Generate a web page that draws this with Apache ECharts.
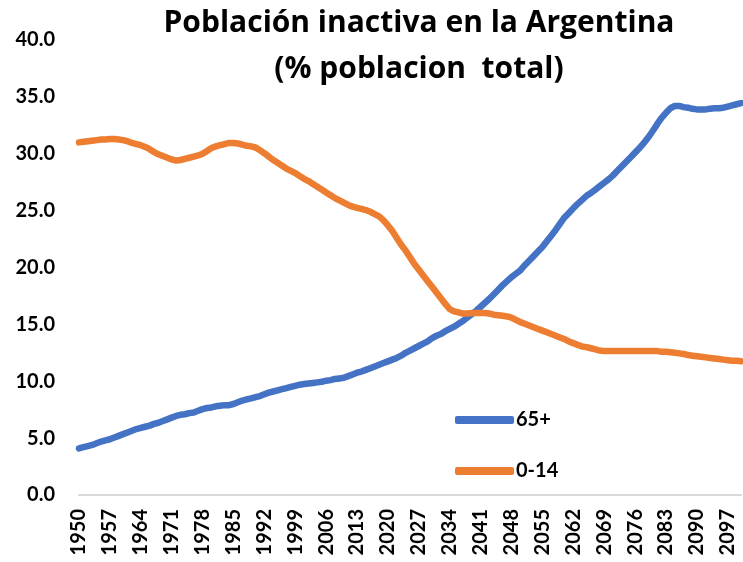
<!DOCTYPE html>
<html>
<head>
<meta charset="utf-8">
<script src="https://cdn.jsdelivr.net/npm/echarts@6/dist/echarts.min.js"></script>
<style>
html,body{margin:0;padding:0;background:#fff;}
#chart{width:743px;height:562px;}
</style>
</head>
<body>
<div id="chart"></div>
<script>
const titleText = 'Población inactiva en la Argentina\n(% poblacion  total)';
const startYear = 1950;
const endYear = 2100;
const years = [];
for (let y = startYear; y <= endYear; y++) years.push(String(y));

const seriesNames = ['65+', '0-14'];

const age65 = [
  4.1, 4.2, 4.3, 4.4, 4.55, 4.7, 4.8, 4.9, 5.05, 5.2,
  5.35, 5.5, 5.65, 5.8, 5.9, 6.0, 6.1, 6.25, 6.35, 6.5,
  6.65, 6.8, 6.95, 7.05, 7.1, 7.2, 7.25, 7.4, 7.55, 7.65,
  7.7, 7.8, 7.85, 7.9, 7.9, 8.0, 8.15, 8.3, 8.4, 8.5,
  8.6, 8.7, 8.85, 9.0, 9.1, 9.2, 9.3, 9.4, 9.5, 9.6,
  9.7, 9.75, 9.8, 9.85, 9.9, 9.95, 10.05, 10.1, 10.2, 10.25,
  10.3, 10.45, 10.6, 10.75, 10.85, 11.0, 11.15, 11.3, 11.45, 11.6,
  11.75, 11.9, 12.05, 12.25, 12.5, 12.7, 12.9, 13.1, 13.3, 13.5,
  13.8, 14.0, 14.15, 14.4, 14.6, 14.8, 15.05, 15.3, 15.6, 15.9,
  16.2, 16.55, 16.9, 17.25, 17.65, 18.05, 18.45, 18.8, 19.15, 19.45,
  19.75, 20.2, 20.6, 21.0, 21.4, 21.8, 22.3, 22.8, 23.3, 23.85,
  24.4, 24.8, 25.2, 25.6, 25.95, 26.3, 26.55, 26.85, 27.15, 27.45,
  27.75, 28.1, 28.5, 28.9, 29.3, 29.7, 30.1, 30.5, 30.95, 31.45,
  32.0, 32.6, 33.15, 33.6, 34.0, 34.2, 34.2, 34.1, 34.05, 33.95,
  33.9, 33.9, 33.9, 33.95, 34.0, 34.0, 34.05, 34.15, 34.25, 34.35,
  34.45
];

const age0to14 = [
  31.0, 31.05, 31.1, 31.15, 31.2, 31.25, 31.25, 31.3, 31.3, 31.25,
  31.2, 31.1, 30.95, 30.85, 30.75, 30.6, 30.4, 30.15, 29.95, 29.8,
  29.65, 29.5, 29.4, 29.45, 29.55, 29.65, 29.75, 29.85, 30.0, 30.25,
  30.5, 30.65, 30.75, 30.85, 30.95, 30.95, 30.9, 30.8, 30.7, 30.65,
  30.55, 30.3, 30.05, 29.75, 29.45, 29.2, 28.95, 28.7, 28.5, 28.3,
  28.05, 27.8, 27.6, 27.35, 27.1, 26.85, 26.6, 26.35, 26.1, 25.9,
  25.7, 25.5, 25.35, 25.25, 25.15, 25.05, 24.9, 24.7, 24.5, 24.15,
  23.7, 23.2, 22.6, 22.0, 21.5, 20.9, 20.3, 19.8, 19.3, 18.8,
  18.3, 17.8, 17.3, 16.8, 16.35, 16.15, 16.05, 15.95, 15.95, 16.0,
  16.0, 16.0, 16.0, 15.95, 15.85, 15.8, 15.75, 15.7, 15.6, 15.4,
  15.2, 15.05, 14.9, 14.75, 14.6, 14.45, 14.3, 14.15, 14.0, 13.85,
  13.7, 13.5, 13.35, 13.2, 13.05, 13.0, 12.9, 12.8, 12.7, 12.65,
  12.65, 12.65, 12.65, 12.65, 12.65, 12.65, 12.65, 12.65, 12.65, 12.65,
  12.65, 12.65, 12.6, 12.6, 12.55, 12.5, 12.45, 12.4, 12.3, 12.25,
  12.2, 12.15, 12.1, 12.05, 12.0, 11.95, 11.9, 11.85, 11.8, 11.8,
  11.75
];

const yMin = 0, yMax = 40, yInterval = 5;
const colors = ['#4472C4', '#ED7D31'];
const FONT = 'Lato';
const TITLE_FONT = 'Open Sans';

const chart = echarts.init(document.getElementById('chart'), null, {renderer: 'canvas'});
chart.setOption({
  animation: false,
  backgroundColor: '#ffffff',
  color: colors,
  title: {
    text: titleText,
    left: 414,
    textAlign: 'center',
    top: -5,
    textStyle: {fontFamily: TITLE_FONT, fontWeight: 'bold', fontSize: 30, lineHeight: 46, color: '#000'}
  },
  legend: {
    orient: 'vertical',
    left: 450,
    top: 405,
    itemWidth: 59,
    itemHeight: 8,
    itemGap: 31,
    icon: 'roundRect',
    data: seriesNames,
    textStyle: {fontFamily: FONT, fontWeight: 'bold', fontSize: 20, color: '#000', padding: [0, 0, 0, -3]}
  },
  grid: {left: 79, right: 2, top: 40, bottom: 67, containLabel: false},
  xAxis: {
    type: 'category',
    data: years,
    boundaryGap: false,
    axisLine: {show: true, lineStyle: {color: '#d9d9d9', width: 2}},
    axisTick: {show: false},
    splitLine: {show: false},
    axisLabel: {
      interval: 6,
      rotate: 90,
      margin: 14,
      fontFamily: FONT, fontWeight: 'bold', fontSize: 20, color: '#000'
    }
  },
  yAxis: {
    type: 'value',
    min: yMin, max: yMax, interval: yInterval,
    axisLine: {show: false},
    axisTick: {show: false},
    splitLine: {show: false},
    axisLabel: {
      margin: 24,
      formatter: v => v.toFixed(1),
      fontFamily: FONT, fontWeight: 'bold', fontSize: 20, color: '#000'
    }
  },
  series: [
    {name: seriesNames[0], type: 'line', data: age65, showSymbol: false, symbol: 'none',
     lineStyle: {width: 6.5, color: colors[0], cap: 'round', join: 'round'}},
    {name: seriesNames[1], type: 'line', data: age0to14, showSymbol: false, symbol: 'none',
     lineStyle: {width: 6.5, color: colors[1], cap: 'round', join: 'round'}}
  ]
});
</script>
</body>
</html>
